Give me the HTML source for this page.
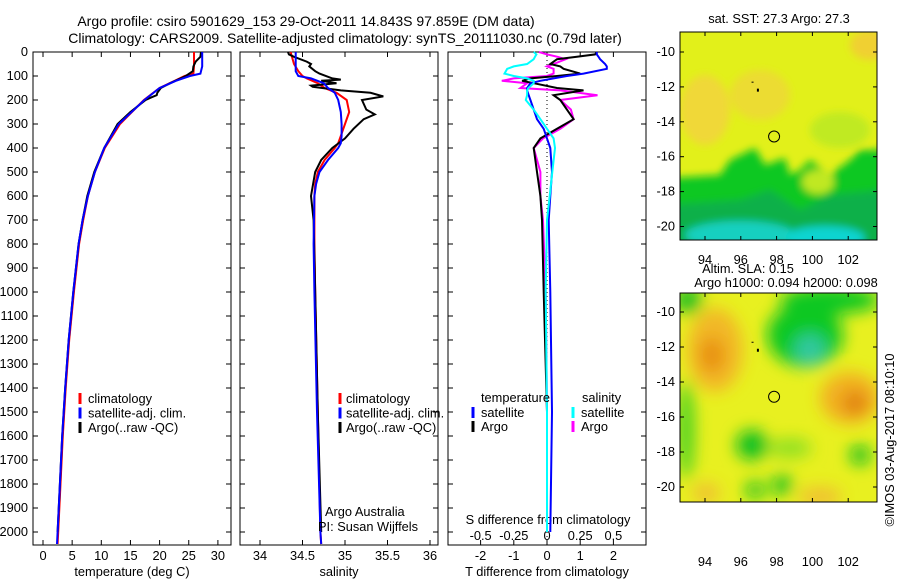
<!DOCTYPE html>
<html><head><meta charset="utf-8"><style>
body{margin:0;background:#fff;width:900px;height:580px;overflow:hidden;font-family:"Liberation Sans",sans-serif;}
svg text{font-family:"Liberation Sans",sans-serif;font-size:12.8px;fill:#000;}
svg text.title{font-size:14px;}
</style></head><body>
<svg id="root" width="900" height="580">
<defs>
<filter id="blur4" x="-20%" y="-20%" width="140%" height="140%"><feGaussianBlur stdDeviation="4"/></filter>
<filter id="blur8" x="-30%" y="-30%" width="160%" height="160%"><feGaussianBlur stdDeviation="8"/></filter>
<clipPath id="clipTop"><rect x="680" y="32" width="197" height="208"/></clipPath>
<clipPath id="clipBot"><rect x="680" y="293" width="197" height="209"/></clipPath>
</defs>
<text class="title" x="306" y="26" text-anchor="middle">Argo profile: csiro 5901629_153 29-Oct-2011 14.843S 97.859E (DM data)</text>
<text class="title" x="345" y="43" text-anchor="middle">Climatology: CARS2009. Satellite-adjusted climatology: synTS_20111030.nc (0.79d later)</text>

<g id="maps">
<g clip-path="url(#clipTop)">
<rect x="680" y="32" width="197" height="208" fill="#e2f01a"/>
<g filter="url(#blur4)">
<ellipse cx="705" cy="110" rx="25" ry="35" fill="#f0d838"/>
<ellipse cx="760" cy="95" rx="30" ry="25" fill="#ecdc30"/>
<ellipse cx="870" cy="45" rx="20" ry="15" fill="#f0d030"/>
<ellipse cx="840" cy="130" rx="30" ry="18" fill="#c0ea20"/>
<polygon points="670,178 720,175 730,160 755,148 765,165 785,158 790,175 800,170 810,160 830,175 850,160 860,150 885,150 885,250 670,250" fill="#10c820"/>
<polygon points="670,205 740,200 770,190 800,210 830,195 885,190 885,250 670,250" fill="#10b048"/>
<ellipse cx="818" cy="182" rx="16" ry="12" fill="#c0e820"/>
<ellipse cx="740" cy="235" rx="55" ry="14" fill="#18d0c0"/>
<ellipse cx="825" cy="238" rx="40" ry="12" fill="#10d4d0"/>
</g>
</g>
<rect x="680" y="32" width="197" height="208" fill="none" stroke="#000"/>
<text x="779" y="23" text-anchor="middle">sat. SST: 27.3 Argo: 27.3</text>
<g clip-path="url(#clipBot)">
<rect x="680" y="293" width="197" height="209" fill="#e8f020"/>
<g filter="url(#blur8)">
<ellipse cx="715" cy="350" rx="28" ry="42" fill="#f2b828"/>
<ellipse cx="712" cy="355" rx="12" ry="18" fill="#e89010"/>
<ellipse cx="805" cy="335" rx="38" ry="32" fill="#10c820"/>
<ellipse cx="830" cy="300" rx="50" ry="14" fill="#10c820"/>
<ellipse cx="810" cy="350" rx="16" ry="16" fill="#30c8a0"/>
<ellipse cx="850" cy="398" rx="30" ry="26" fill="#f2b020"/>
<ellipse cx="855" cy="403" rx="12" ry="12" fill="#e08010"/>
<ellipse cx="686" cy="430" rx="8" ry="50" fill="#40d020"/>
<ellipse cx="752" cy="445" rx="16" ry="15" fill="#10c020"/>
<ellipse cx="790" cy="448" rx="22" ry="10" fill="#90e020"/>
<ellipse cx="860" cy="455" rx="10" ry="10" fill="#10c020"/>
<ellipse cx="782" cy="485" rx="10" ry="10" fill="#10c020"/>
<ellipse cx="820" cy="497" rx="22" ry="10" fill="#f0c030"/>
<ellipse cx="706" cy="493" rx="14" ry="10" fill="#f0c030"/>
<ellipse cx="755" cy="490" rx="10" ry="8" fill="#10c020"/>
<ellipse cx="688" cy="300" rx="14" ry="14" fill="#20c020"/>
</g>
</g>
<rect x="680" y="293" width="197" height="209" fill="none" stroke="#000"/>
<text x="748" y="273" text-anchor="middle">Altim. SLA: 0.15</text>
<text x="786" y="287" text-anchor="middle">Argo h1000: 0.094 h2000: 0.098</text>
<text transform="translate(894,440) rotate(-90)" text-anchor="middle">©IMOS 03-Aug-2017 08:10:10</text>
</g>
<g id="plots"></g>
</svg>
<script>
const depthT=[0,60,90,100,120,150,200,300,400,500,600,700,800,1000,1200,1400,1600,1800,2000,2050];
const tempClim=[25.9,25.9,25.8,24.3,22.6,20,17.3,13.2,10.6,8.9,7.7,6.9,6.2,5.3,4.5,3.9,3.4,3.0,2.6,2.5];
const tempSat=[27.3,27.3,27.0,25.2,22.8,20,17.4,13.0,10.5,8.9,7.7,6.8,6.1,5.2,4.4,3.8,3.3,2.9,2.5,2.4];
const depthA=[0,20,40,60,80,100,130,140,150,170,180,190,200,250,300,400,500,600,700,800,1000,1200,1400,1600,1800,2000];
const tempArgo=[27.1,27.0,26.2,25.8,25.7,24.5,21.8,21.0,20.2,19.6,19.5,18.5,17.6,15.0,12.8,10.5,8.8,7.6,6.8,6.1,5.2,4.4,3.8,3.3,2.9,2.5];

const depthS=[0,50,80,100,110,130,150,170,200,250,300,350,380,400,450,500,550,600,800,1000,1500,2000,2050];
const salClim=[34.36,34.4,34.45,34.5,34.55,34.68,34.76,34.9,35.02,35.05,35.0,34.95,34.92,34.88,34.76,34.68,34.65,34.64,34.64,34.65,34.68,34.71,34.72];
const salSat=[34.42,34.42,34.42,34.45,34.6,34.75,34.8,34.88,34.92,34.95,34.96,34.96,34.95,34.92,34.8,34.7,34.66,34.64,34.63,34.64,34.67,34.71,34.72];
const depthSA=[0,10,20,40,50,60,80,90,110,115,120,130,140,145,160,170,185,200,240,260,280,320,360,400,450,500,600,700,1000,1500,2000];
const salArgo=[34.33,34.34,34.4,34.55,34.6,34.58,34.65,34.7,34.85,34.95,34.72,34.9,34.6,34.62,34.95,35.3,35.45,35.2,35.25,35.35,35.22,35.1,35.0,34.85,34.72,34.65,34.6,34.63,34.65,34.68,34.72];

const depthD=[0,10,20,30,50,60,70,90,100,110,120,130,150,160,180,200,240,280,320,360,400,500,600,700,1000,1500,2000];
const dTsat=[1.5,1.5,1.55,1.6,1.75,1.8,1.8,1.1,0.6,0.2,-0.2,-0.5,-0.6,-0.6,-0.55,-0.5,-0.4,-0.3,-0.1,0.0,0.1,0.15,0.1,0.05,0.1,0.15,0.1];
const dTargo=[1.5,1.45,0.9,0.3,0.1,0.4,0.5,1.0,0.3,-0.5,-0.75,-0.4,0.3,1.1,0.2,0.4,0.6,0.8,0.3,-0.2,-0.4,-0.3,-0.2,-0.15,-0.1,0.0,0.0];
const dSsat=[-0.1,-0.08,-0.09,-0.1,-0.15,-0.25,-0.3,-0.32,-0.25,-0.15,-0.1,-0.1,-0.14,-0.15,-0.15,-0.16,-0.1,-0.05,0.0,0.05,0.06,0.04,0.02,0.0,-0.01,0.0,0.0];
const dSargo=[-0.06,0.0,0.08,0.14,0.05,0.0,0.05,0.05,0.0,-0.25,-0.34,-0.15,-0.2,0.1,0.38,0.1,0.18,0.2,0.1,-0.03,-0.1,-0.05,-0.05,-0.03,-0.01,0.0,0.0];

const depthTicks=[0,100,200,300,400,500,600,700,800,900,1000,1100,1200,1300,1400,1500,1600,1700,1800,1900,2000];
const tempTicks=[0,5,10,15,20,25,30];
const salTicks=[34,34.5,35,35.5,36];
const dTTicks=[-2,-1,0,1,2];
const dSTicks=[-0.5,-0.25,0,0.25,0.5];
const lonTicks=[94,96,98,100,102];
const latTicks=[-10,-12,-14,-16,-18,-20];

const NS='http://www.w3.org/2000/svg';
const G=document.getElementById('plots');
const yD=d=>52+d*0.24;
const xTemp=t=>43+t*5.83;
const xSal=s=>260+(s-34)*85;
const xDT=t=>547+t*33.2;
const xDS=s=>547+s*132.8;
const lonX=l=>705+(l-94)*17.9;
const latYTop=l=>52+(-10-l)*17.45;
const latYBot=l=>312+(-10-l)*17.5;
function el(tag,attrs,parent){const e=document.createElementNS(NS,tag);for(const k in attrs)e.setAttribute(k,attrs[k]);(parent||G).appendChild(e);return e;}
function txt(x,y,s,anchor){const t=el('text',{x:x,y:y,'text-anchor':anchor||'middle'});t.textContent=s;return t;}
function line(xs,ys,xf,color,name){
  const pts=xs.map((v,i)=>xf(v).toFixed(1)+','+yD(ys[i]).toFixed(1)).join(' ');
  const p=el('polyline',{points:pts,fill:'none',stroke:color,'stroke-width':2});
  
  
}
function frame(x0,x1,name){
  const r=el('rect',{x:x0,y:52,width:x1-x0,height:493,fill:'none',stroke:'#000'});
  
  
  depthTicks.forEach(d=>{el('line',{x1:x0,x2:x0+5,y1:yD(d),y2:yD(d),stroke:'#000'});el('line',{x1:x1,x2:x1-5,y1:yD(d),y2:yD(d),stroke:'#000'});});
}
depthTicks.forEach(d=>{const t=txt(28,yD(d)+4,String(d),'end');

});

frame(33,231,'temperature-panel');
tempTicks.forEach(v=>{const x=xTemp(v);el('line',{x1:x,x2:x,y1:545,y2:540,stroke:'#000'});el('line',{x1:x,x2:x,y1:52,y2:57,stroke:'#000'});
const t=txt(x,560,String(v));

});
const t1=txt(132,576,'temperature (deg C)');


line(tempClim,depthT,xTemp,'#f00','temp-climatology-line');
line(tempArgo,depthA,xTemp,'#000','temp-argo-line');
line(tempSat,depthT,xTemp,'#00f','temp-satellite-line');

frame(240,438,'salinity-panel');
salTicks.forEach(v=>{const x=xSal(v);el('line',{x1:x,x2:x,y1:545,y2:540,stroke:'#000'});el('line',{x1:x,x2:x,y1:52,y2:57,stroke:'#000'});
const t=txt(x,560,String(v));

});
const t2=txt(339,576,'salinity');


line(salClim,depthS,xSal,'#f00','sal-climatology-line');
line(salArgo,depthSA,xSal,'#000','sal-argo-line');
line(salSat,depthS,xSal,'#00f','sal-satellite-line');
const a1=txt(325,516,'Argo Australia','start');


const a2=txt(318,531,'PI: Susan Wijffels','start');



[[80,88],[340,346]].forEach((p,k)=>{
  [['#f00','climatology'],['#00f','satellite-adj. clim.'],['#000','Argo(..raw -QC)']].forEach((e,i)=>{
    const y=402+i*14.5;
    el('line',{x1:p[0],x2:p[0],y1:y-9,y2:y+2,stroke:e[0],'stroke-width':3});
    const t=txt(p[1],y+1,e[1],'start');
    
    
  });
});

frame(448,646,'difference-panel');
el('line',{x1:547,x2:547,y1:52,y2:545,stroke:'#000','stroke-dasharray':'1,3'});
dTTicks.forEach(v=>{const x=xDT(v);el('line',{x1:x,x2:x,y1:545,y2:540,stroke:'#000'});
const t=txt(x,560,String(v));

});
dSTicks.forEach(v=>{const x=xDS(v);el('line',{x1:x,x2:x,y1:52,y2:57,stroke:'#000'});
const t=txt(x,540,String(v));

});
const t3=txt(547,576,'T difference from climatology');


const t4=txt(548,524,'S difference from climatology');


line(dSargo,depthD,xDS,'#f0f','s-argo-diff-line');
line(dTargo,depthD,xDT,'#000','t-argo-diff-line');
line(dTsat,depthD,xDT,'#00f','t-satellite-diff-line');
line(dSsat,depthD,xDS,'#0ff','s-satellite-diff-line');
[[481,'temperature'],[582,'salinity']].forEach(h=>{const t=txt(h[0],402,h[1],'start');

});
[[473,481,'#00f','satellite'],[473,481,'#000','Argo'],[573,581,'#0ff','satellite'],[573,581,'#f0f','Argo']].forEach((e,i)=>{
  const y=416+(i%2)*14;
  el('line',{x1:e[0],x2:e[0],y1:y-9,y2:y+2,stroke:e[2],'stroke-width':3});
  const t=txt(e[1],y+1,e[3],'start');
  
  
});

[[latYTop,32,240,264],[latYBot,293,502,566]].forEach(m=>{
  lonTicks.forEach(v=>{const x=lonX(v);el('line',{x1:x,x2:x,y1:m[2],y2:m[2]-4,stroke:'#000'});el('line',{x1:x,x2:x,y1:m[1],y2:m[1]+4,stroke:'#000'});
  const t=txt(x,m[3],String(v));
  
  });
  latTicks.forEach(v=>{const y=m[0](v);el('line',{x1:680,x2:684,y1:y,y2:y,stroke:'#000'});el('line',{x1:877,x2:873,y1:y,y2:y,stroke:'#000'});
  const t=txt(675,y+4,String(v),'end');
  
  });
  const c=el('circle',{cx:lonX(97.859),cy:m[0](-14.843),r:5.5,fill:'none',stroke:'#000'});
  
  
  el('rect',{x:lonX(96.6),y:m[0](-11.7),width:2,height:1,fill:'#000'});
  el('rect',{x:lonX(96.9),y:m[0](-12.1),width:2,height:3,fill:'#000'});
});
</script>
</body></html>
